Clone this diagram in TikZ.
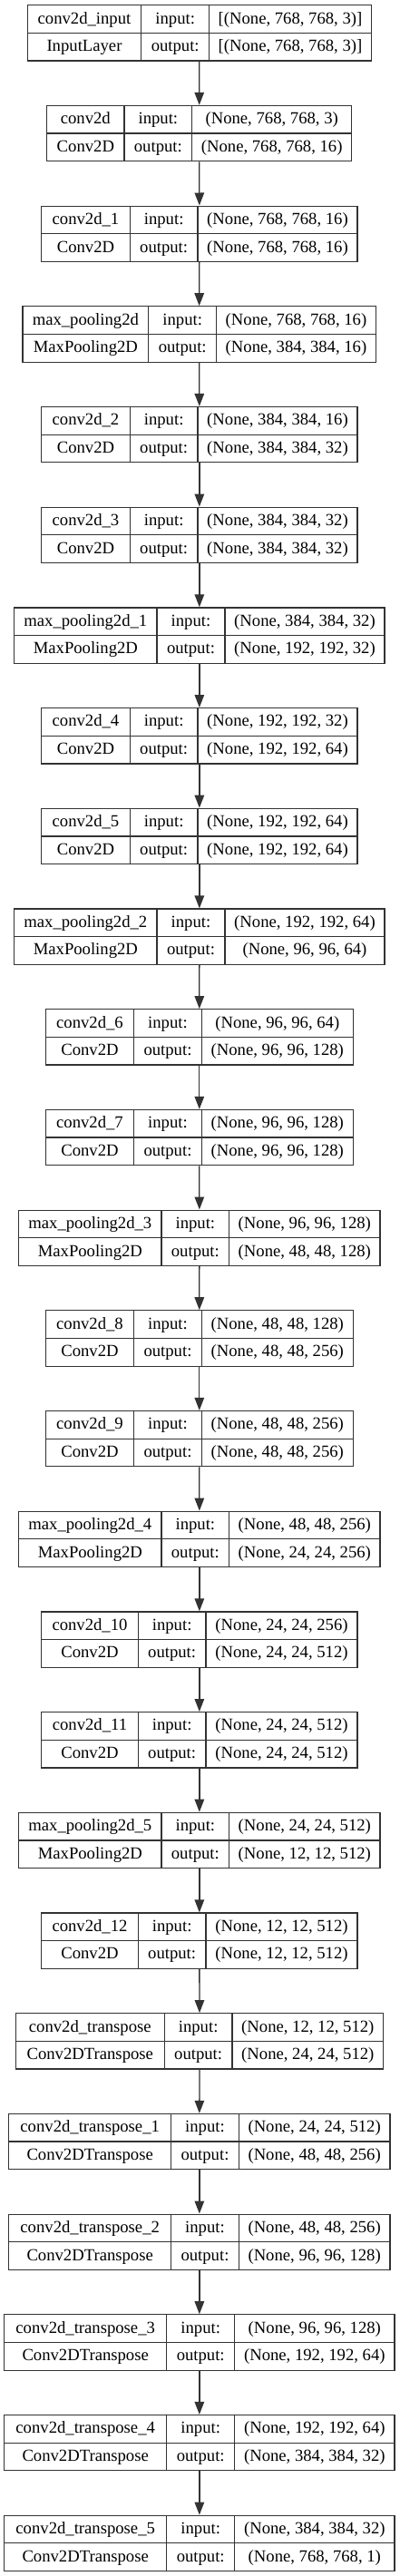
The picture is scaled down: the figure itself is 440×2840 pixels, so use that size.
\documentclass[tikz,border=0pt]{standalone}
\usepackage{fontspec}
\setmainfont{Liberation Serif}
\usetikzlibrary{arrows.meta}
\definecolor{ln}{HTML}{333333}
\tikzset{
  box/.style={draw=ln, line width=1.2pt, rectangle, inner sep=0pt, fill=white},
  cell/.style={anchor=base, inner sep=0pt, font=\fontsize{18.67pt}{22pt}\selectfont},
  sep/.style={draw=ln, line width=1.2pt},
  arr/.style={draw=ln, line width=1.3pt, -{Triangle[length=14pt,width=10.5pt]}}
}
\newcommand\lay[9]{%
  \pgfmathsetmacro\Ltp{5.7+110.7*#1}%
  \pgfmathsetmacro\Lbt{\Ltp+61.3}%
  \pgfmathsetmacro\Lmd{\Ltp+30.65}%
  \pgfmathsetmacro\Lwd{#5-#2}%
  \pgfmathsetmacro\Lcx{(#2+#5)/2}%
  \pgfmathsetmacro\Lca{(#2+#3)/2}%
  \pgfmathsetmacro\Lcb{(#3+#4)/2}%
  \pgfmathsetmacro\Lcc{(#4+#5)/2}%
  \pgfmathsetmacro\Lya{\Ltp+20.3}%
  \pgfmathsetmacro\Lyb{\Lmd+20.3}%
  \node[box, minimum width=\Lwd pt, minimum height=61.3pt] (b#1) at (\Lcx,\Lmd) {};
  \draw[sep] (b#1.west) -- (b#1.east);
  \draw[sep] (#3,\Ltp) -- (#3,\Lbt);
  \draw[sep] (#4,\Ltp) -- (#4,\Lbt);
  \node[cell] (b#1n) at (\Lca,\Lya) {#6};
  \node[cell] (b#1k) at (\Lca,\Lyb) {#7};
  \node[cell] (b#1i) at (\Lcb,\Lya) {input:};
  \node[cell] (b#1o) at (\Lcb,\Lyb) {output:};
  \node[cell] (b#1x) at (\Lcc,\Lya) {#8};
  \node[cell] (b#1y) at (\Lcc,\Lyb) {#9};
}
\begin{document}
\begin{tikzpicture}[x=1pt,y=-1pt]
\useasboundingbox[fill=white] (0,0) rectangle (440,2840);
\lay{0}{30.3}{155.7}{230.7}{409.3}{conv2d\_input}{InputLayer}{[(None, 768, 768, 3)]}{[(None, 768, 768, 3)]}
\lay{1}{51.7}{137}{211.7}{387.7}{conv2d}{Conv2D}{(None, 768, 768, 3)}{(None, 768, 768, 16)}
\lay{2}{45.7}{143.3}{218}{394}{conv2d\_1}{Conv2D}{(None, 768, 768, 16)}{(None, 768, 768, 16)}
\lay{3}{25}{163.7}{238.7}{414.3}{max\_pooling2d}{MaxPooling2D}{(None, 768, 768, 16)}{(None, 384, 384, 16)}
\lay{4}{45.7}{143.3}{218}{394}{conv2d\_2}{Conv2D}{(None, 384, 384, 16)}{(None, 384, 384, 32)}
\lay{5}{45.7}{143.3}{218}{394}{conv2d\_3}{Conv2D}{(None, 384, 384, 32)}{(None, 384, 384, 32)}
\lay{6}{15.7}{173}{248}{424}{max\_pooling2d\_1}{MaxPooling2D}{(None, 384, 384, 32)}{(None, 192, 192, 32)}
\lay{7}{45.7}{143.3}{218}{394}{conv2d\_4}{Conv2D}{(None, 192, 192, 32)}{(None, 192, 192, 64)}
\lay{8}{45.7}{143.3}{218}{394}{conv2d\_5}{Conv2D}{(None, 192, 192, 64)}{(None, 192, 192, 64)}
\lay{9}{15.7}{173}{248}{424}{max\_pooling2d\_2}{MaxPooling2D}{(None, 192, 192, 64)}{(None, 96, 96, 64)}
\lay{10}{50.3}{147.7}{222.3}{389.3}{conv2d\_6}{Conv2D}{(None, 96, 96, 64)}{(None, 96, 96, 128)}
\lay{11}{50.3}{147.7}{222.3}{389.3}{conv2d\_7}{Conv2D}{(None, 96, 96, 128)}{(None, 96, 96, 128)}
\lay{12}{20.7}{178}{252.7}{419}{max\_pooling2d\_3}{MaxPooling2D}{(None, 96, 96, 128)}{(None, 48, 48, 128)}
\lay{13}{50.3}{147.7}{222.3}{389.3}{conv2d\_8}{Conv2D}{(None, 48, 48, 128)}{(None, 48, 48, 256)}
\lay{14}{50.3}{147.7}{222.3}{389.3}{conv2d\_9}{Conv2D}{(None, 48, 48, 256)}{(None, 48, 48, 256)}
\lay{15}{20.7}{178}{252.7}{419}{max\_pooling2d\_4}{MaxPooling2D}{(None, 48, 48, 256)}{(None, 24, 24, 256)}
\lay{16}{45.7}{152.3}{227}{394}{conv2d\_10}{Conv2D}{(None, 24, 24, 256)}{(None, 24, 24, 512)}
\lay{17}{45.7}{152.3}{227}{394}{conv2d\_11}{Conv2D}{(None, 24, 24, 512)}{(None, 24, 24, 512)}
\lay{18}{20.7}{178}{252.7}{419}{max\_pooling2d\_5}{MaxPooling2D}{(None, 24, 24, 512)}{(None, 12, 12, 512)}
\lay{19}{45.7}{152.3}{227}{394}{conv2d\_12}{Conv2D}{(None, 12, 12, 512)}{(None, 12, 12, 512)}
\lay{20}{17.3}{181.3}{256}{422.7}{conv2d\_transpose}{Conv2DTranspose}{(None, 12, 12, 512)}{(None, 24, 24, 512)}
\lay{21}{9.7}{188.7}{263.3}{430}{conv2d\_transpose\_1}{Conv2DTranspose}{(None, 24, 24, 512)}{(None, 48, 48, 256)}
\lay{22}{9.7}{188.7}{263.3}{430}{conv2d\_transpose\_2}{Conv2DTranspose}{(None, 48, 48, 256)}{(None, 96, 96, 128)}
\lay{23}{4.7}{183.7}{258.7}{435}{conv2d\_transpose\_3}{Conv2DTranspose}{(None, 96, 96, 128)}{(None, 192, 192, 64)}
\lay{24}{4.7}{183.7}{258.7}{435}{conv2d\_transpose\_4}{Conv2DTranspose}{(None, 192, 192, 64)}{(None, 384, 384, 32)}
\lay{25}{4.7}{183.7}{258.7}{435}{conv2d\_transpose\_5}{Conv2DTranspose}{(None, 384, 384, 32)}{(None, 768, 768, 1)}
\foreach \i [evaluate=\i as \j using int(\i+1)] in {0,...,24} {
  \draw[arr] (b\i.south) -- (b\j.north);
}
\end{tikzpicture}
\end{document}
